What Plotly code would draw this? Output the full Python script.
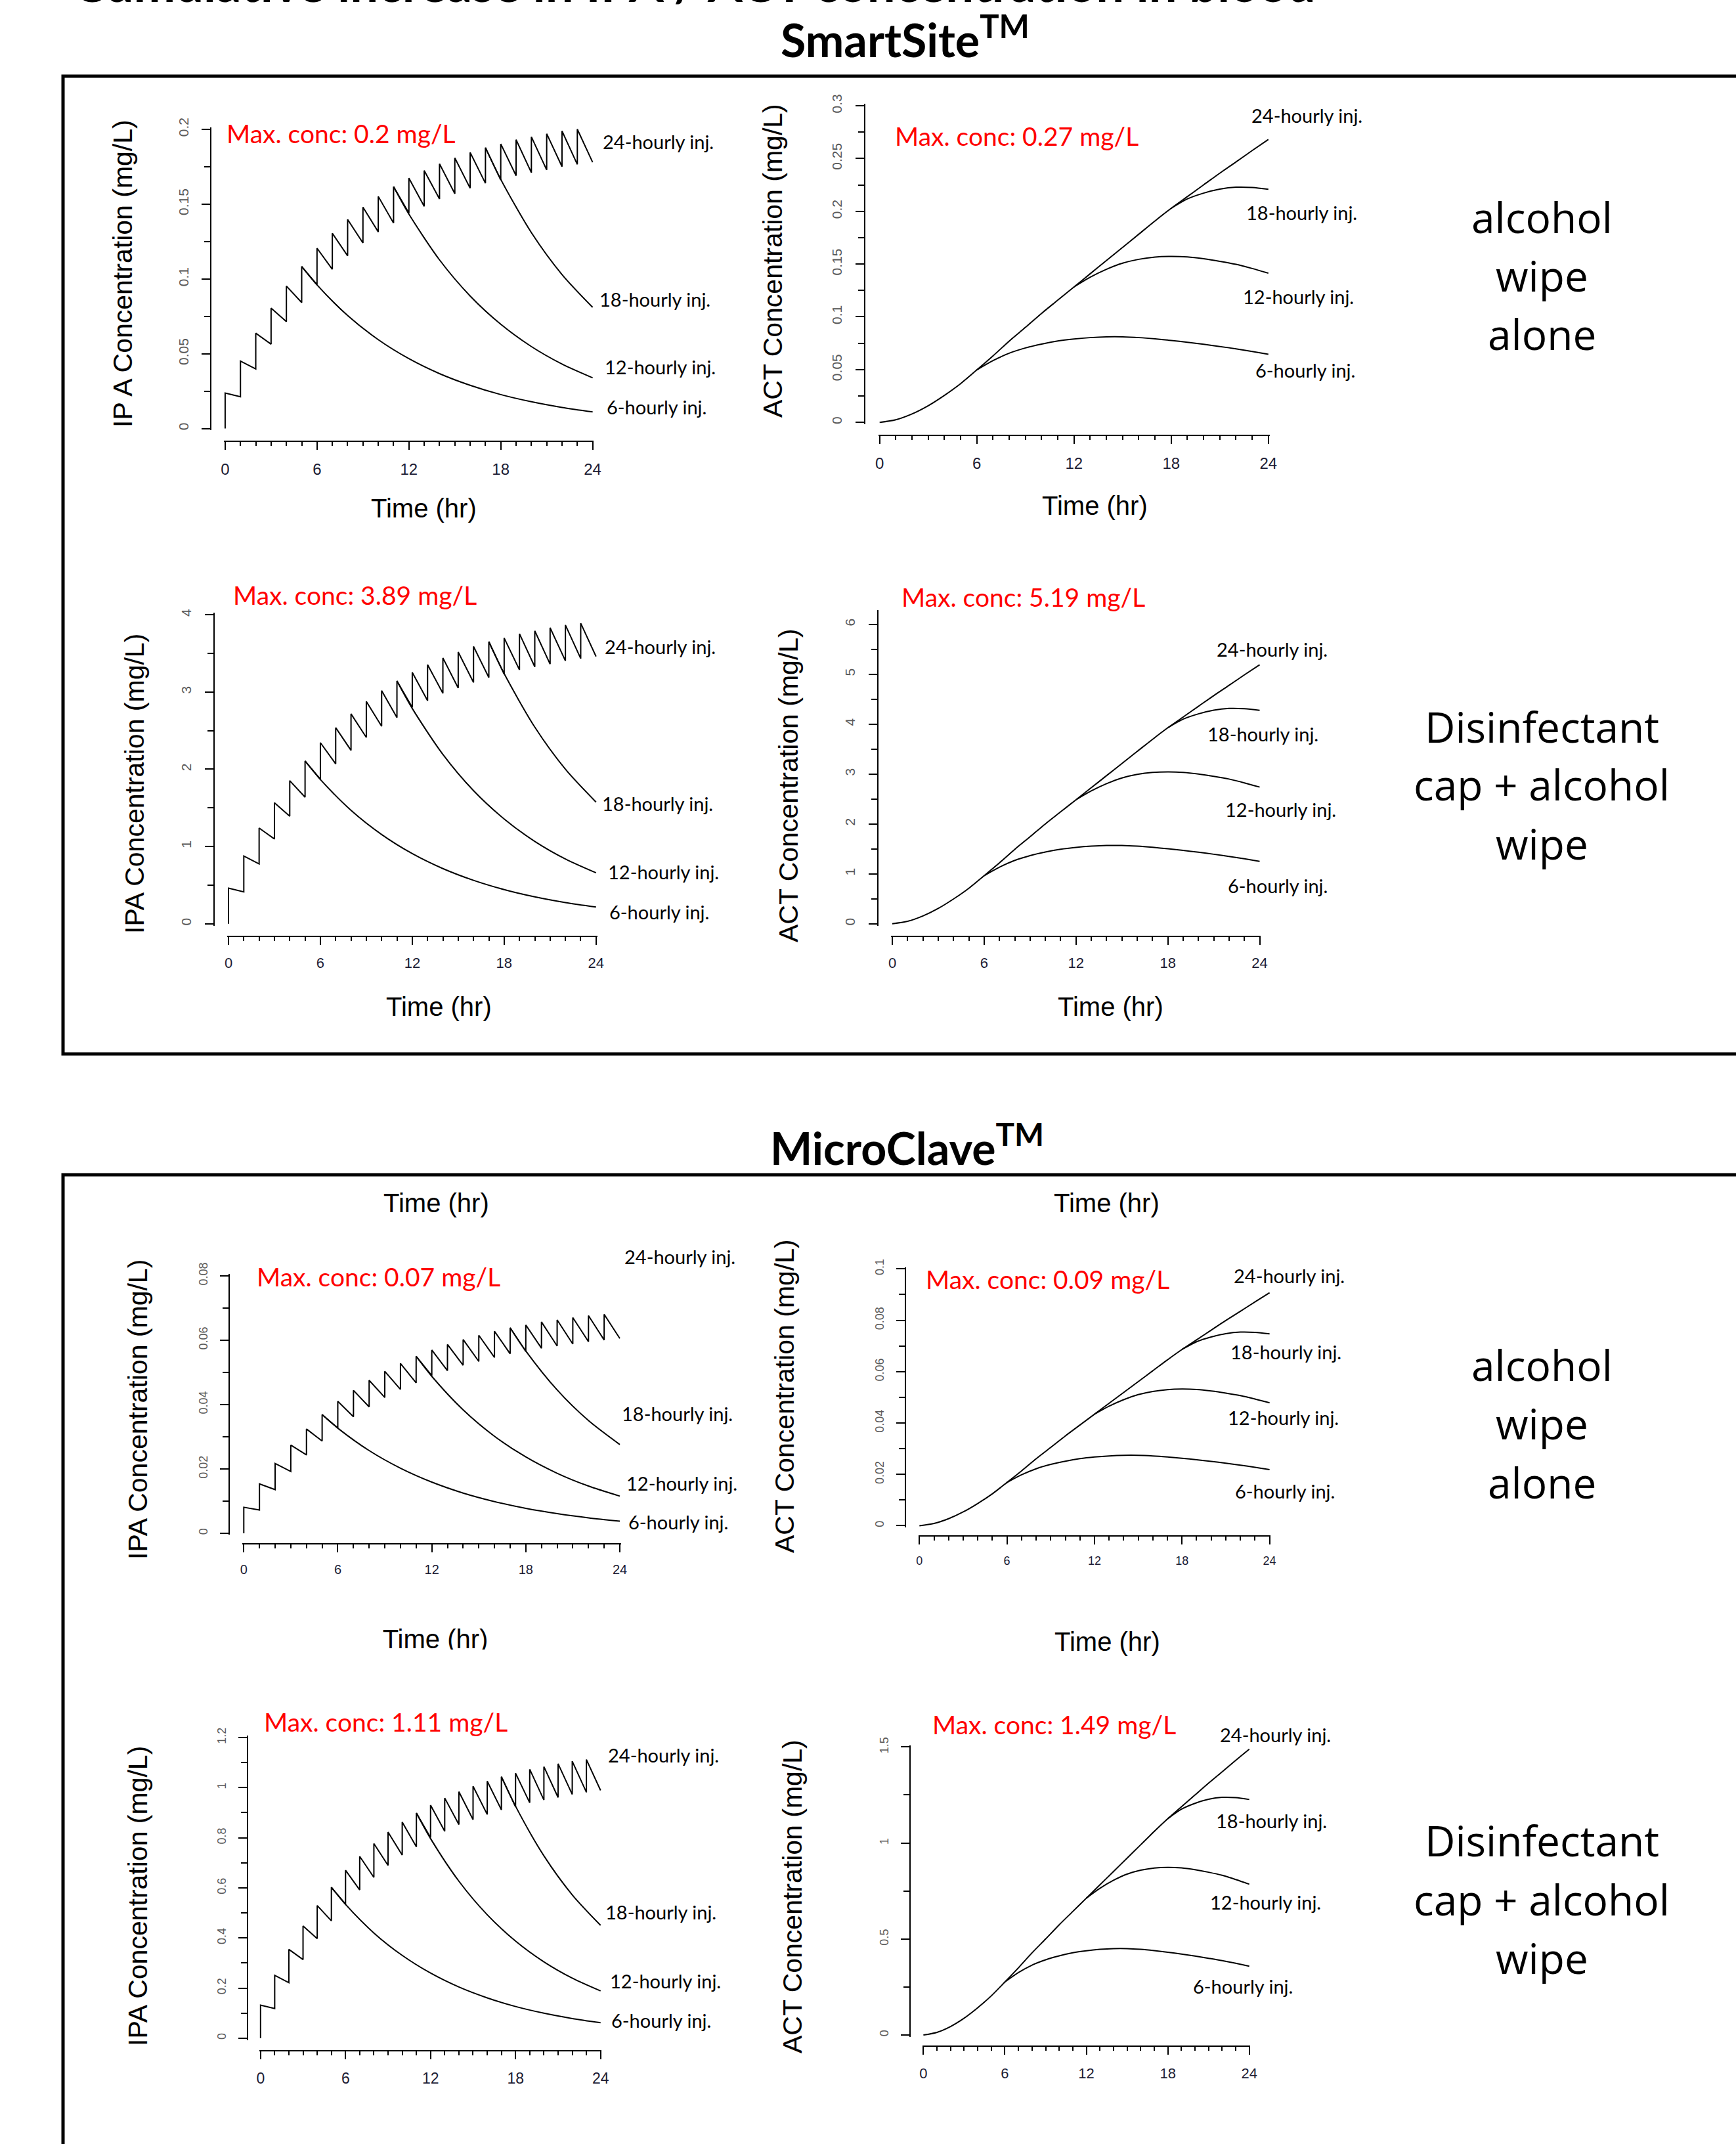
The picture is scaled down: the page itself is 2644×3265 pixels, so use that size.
import plotly.graph_objects as go

W, H = 2644, 3265

# ---------------- data ----------------
INJ_T = [0, 1, 2, 3, 4, 5, 6, 7, 8, 9, 10, 11, 12, 13, 14, 15, 16, 17, 18, 19, 20, 21, 22, 23]
PRE_T = [1, 2, 3, 4, 5, 6, 7, 8, 9, 10, 11, 12, 13, 14, 15, 16, 17, 18, 19, 20, 21, 22, 23, 24]
TAIL6_T = [5, 6, 8, 10, 12, 14, 16, 18, 20, 22, 24]
TAIL12_T = [11, 12, 14, 16, 18, 20, 22, 24]
TAIL18_T = [17, 18, 20, 22, 24]
ACT24_T = [0, 1, 2, 3, 4, 5, 6, 7, 8, 9, 10, 11, 12, 13, 14, 15, 16, 17, 18, 19, 20, 21, 22, 23, 24]
ACT6_T = [6, 7, 8, 9, 10, 11, 12, 13, 14, 15, 16, 17, 18, 19, 20, 21, 22, 23, 24]
ACT12_T = [12, 13, 14, 15, 16, 17, 18, 19, 20, 21, 22, 23, 24]
ACT18_T = [18, 19, 20, 21, 22, 23, 24]
X_TICKS = [0, 6, 12, 18, 24]

# SmartSite - alcohol wipe alone - IPA
SS_AW_IPA_PEAK = [0.0237, 0.0451, 0.0637, 0.0805, 0.0952, 0.1083, 0.1205, 0.1305, 0.1397, 0.1479, 0.1551, 0.1616,
                  0.1673, 0.1724, 0.1769, 0.1808, 0.1845, 0.1877, 0.1902, 0.1930, 0.1949, 0.1970, 0.1988, 0.2000]
SS_AW_IPA_TROUGH = [0.0212, 0.0398, 0.0564, 0.0715, 0.0842, 0.0962, 0.1064, 0.1154, 0.1240, 0.1314, 0.1373, 0.1440,
                    0.1485, 0.1534, 0.1569, 0.1606, 0.1639, 0.1661, 0.1690, 0.1710, 0.1728, 0.1750, 0.1765, 0.1779]
SS_AW_IPA_6H = [0.1083, 0.0960, 0.0755, 0.0594, 0.0467, 0.0367, 0.0289, 0.0227, 0.0179, 0.0141, 0.0111]
SS_AW_IPA_12H = [0.1616, 0.1433, 0.1127, 0.0886, 0.0697, 0.0548, 0.0431, 0.0339]
SS_AW_IPA_18H = [0.1877, 0.1665, 0.1309, 0.1029, 0.0810]

# SmartSite - alcohol wipe alone - ACT
SS_AW_ACT_24H = [0, 0.0025, 0.0080, 0.0158, 0.0256, 0.0367, 0.0497, 0.0630, 0.0770, 0.0900, 0.1033, 0.1158, 0.1283,
                 0.1408, 0.1533, 0.1658, 0.1783, 0.1908, 0.2028, 0.2139, 0.2250, 0.2361, 0.2467, 0.2575, 0.2680]
SS_AW_ACT_6H = [0.0497, 0.0585, 0.0655, 0.0705, 0.0742, 0.0771, 0.0790, 0.0803, 0.0810, 0.0810, 0.0803, 0.0791,
                0.0776, 0.0759, 0.0740, 0.0719, 0.0697, 0.0672, 0.0645]
SS_AW_ACT_12H = [0.1283, 0.1375, 0.1450, 0.1508, 0.1545, 0.1566, 0.1572, 0.1567, 0.1550, 0.1526, 0.1497, 0.1458, 0.1414]
SS_AW_ACT_18H = [0.2028, 0.2117, 0.2172, 0.2210, 0.2228, 0.2225, 0.2208]

# SmartSite - disinfectant cap + alcohol wipe - IPA
SS_DC_IPA_PEAK = [0.461, 0.877, 1.239, 1.566, 1.852, 2.106, 2.344, 2.538, 2.717, 2.877, 3.017, 3.143,
                  3.254, 3.353, 3.441, 3.517, 3.589, 3.651, 3.699, 3.754, 3.791, 3.832, 3.867, 3.890]
SS_DC_IPA_TROUGH = [0.412, 0.774, 1.097, 1.391, 1.638, 1.871, 2.069, 2.245, 2.412, 2.556, 2.670, 2.801,
                    2.888, 2.984, 3.052, 3.124, 3.188, 3.231, 3.287, 3.326, 3.361, 3.404, 3.433, 3.460]
SS_DC_IPA_6H = [2.106, 1.867, 1.468, 1.155, 0.908, 0.714, 0.562, 0.442, 0.348, 0.274, 0.216]
SS_DC_IPA_12H = [3.143, 2.787, 2.192, 1.723, 1.356, 1.066, 0.838, 0.659]
SS_DC_IPA_18H = [3.651, 3.238, 2.546, 2.001, 1.575]

# SmartSite - disinfectant cap + alcohol wipe - ACT
SS_DC_ACT_24H = [0, 0.048, 0.155, 0.306, 0.496, 0.711, 0.963, 1.220, 1.491, 1.743, 2.001, 2.243, 2.485,
                 2.727, 2.969, 3.212, 3.454, 3.696, 3.928, 4.143, 4.358, 4.573, 4.779, 4.988, 5.191]
SS_DC_ACT_6H = [0.963, 1.133, 1.269, 1.366, 1.437, 1.493, 1.530, 1.555, 1.569, 1.569, 1.555, 1.532,
                1.503, 1.470, 1.433, 1.393, 1.350, 1.302, 1.249]
SS_DC_ACT_12H = [2.485, 2.663, 2.809, 2.921, 2.993, 3.033, 3.045, 3.035, 3.002, 2.956, 2.900, 2.824, 2.739]
SS_DC_ACT_18H = [3.928, 4.101, 4.207, 4.281, 4.316, 4.310, 4.277]

# MicroClave - alcohol wipe alone - IPA
MC_AW_IPA_PEAK = [0.00806, 0.01533, 0.02166, 0.02737, 0.03237, 0.03682, 0.04097, 0.04437, 0.04750, 0.05029, 0.05273,
                  0.05494, 0.05688, 0.05862, 0.06015, 0.06147, 0.06273, 0.06382, 0.06467, 0.06562, 0.06627, 0.06698,
                  0.06759, 0.06800]
MC_AW_IPA_TROUGH = [0.00721, 0.01353, 0.01918, 0.02431, 0.02863, 0.03271, 0.03618, 0.03924, 0.04216, 0.04468, 0.04668,
                    0.04896, 0.05049, 0.05216, 0.05335, 0.05460, 0.05573, 0.05647, 0.05746, 0.05814, 0.05875, 0.05950,
                    0.06001, 0.06049]
MC_AW_IPA_6H = [0.03682, 0.03264, 0.02567, 0.02020, 0.01588, 0.01248, 0.00983, 0.00772, 0.00609, 0.00479, 0.00377]
MC_AW_IPA_12H = [0.05494, 0.04872, 0.03832, 0.03012, 0.02370, 0.01863, 0.01465, 0.01153]
MC_AW_IPA_18H = [0.06382, 0.05661, 0.04451, 0.03499, 0.02754]

# MicroClave - alcohol wipe alone - ACT
MC_AW_ACT_24H = [0, 0.00085, 0.00271, 0.00535, 0.00866, 0.01242, 0.01682, 0.02132, 0.02606, 0.03046, 0.03496, 0.03919,
                 0.04342, 0.04765, 0.05188, 0.05611, 0.06034, 0.06457, 0.06863, 0.07238, 0.07614, 0.07990, 0.08348,
                 0.08714, 0.09069]
MC_AW_ACT_6H = [0.01682, 0.01980, 0.02217, 0.02386, 0.02511, 0.02609, 0.02673, 0.02717, 0.02741, 0.02741, 0.02717,
                0.02677, 0.02626, 0.02568, 0.02504, 0.02433, 0.02359, 0.02274, 0.02183]
MC_AW_ACT_12H = [0.04342, 0.04653, 0.04907, 0.05103, 0.05228, 0.05299, 0.05320, 0.05303, 0.05245, 0.05164, 0.05066,
                 0.04934, 0.04785]
MC_AW_ACT_18H = [0.06863, 0.07164, 0.07350, 0.07479, 0.07540, 0.07529, 0.07472]

# MicroClave - disinfectant cap + alcohol wipe - IPA
MC_DC_IPA_PEAK = [0.1318, 0.2508, 0.3542, 0.4476, 0.5293, 0.6021, 0.6700, 0.7256, 0.7767, 0.8223, 0.8624, 0.8985,
                  0.9302, 0.9585, 0.9836, 1.0052, 1.0258, 1.0436, 1.0575, 1.0731, 1.0836, 1.0953, 1.1053, 1.1120]
MC_DC_IPA_TROUGH = [0.1179, 0.2213, 0.3136, 0.3975, 0.4682, 0.5349, 0.5916, 0.6416, 0.6894, 0.7306, 0.7634, 0.8006,
                    0.8257, 0.8529, 0.8724, 0.8929, 0.9113, 0.9235, 0.9396, 0.9508, 0.9608, 0.9730, 0.9813, 0.9891]
MC_DC_IPA_6H = [0.6021, 0.5338, 0.4198, 0.3303, 0.2597, 0.2041, 0.1607, 0.1262, 0.0995, 0.0784, 0.0617]
MC_DC_IPA_12H = [0.8985, 0.7967, 0.6266, 0.4926, 0.3875, 0.3047, 0.2396, 0.1885]
MC_DC_IPA_18H = [1.0436, 0.9257, 0.7278, 0.5721, 0.4504]

# MicroClave - disinfectant cap + alcohol wipe - ACT
MC_DC_ACT_24H = [0, 0.0139, 0.0444, 0.0878, 0.1422, 0.2039, 0.2761, 0.3500, 0.4277, 0.5000, 0.5738, 0.6433, 0.7127,
                 0.7821, 0.8516, 0.9210, 0.9905, 1.0599, 1.1266, 1.1882, 1.2499, 1.3115, 1.3704, 1.4304, 1.4887]
MC_DC_ACT_6H = [0.2761, 0.3250, 0.3639, 0.3916, 0.4122, 0.4283, 0.4388, 0.4461, 0.4500, 0.4500, 0.4461, 0.4394,
                0.4311, 0.4216, 0.4111, 0.3994, 0.3872, 0.3733, 0.3583]
MC_DC_ACT_12H = [0.7127, 0.7638, 0.8055, 0.8377, 0.8582, 0.8699, 0.8732, 0.8705, 0.8610, 0.8477, 0.8316, 0.8099, 0.7855]
MC_DC_ACT_18H = [1.1266, 1.1760, 1.2065, 1.2277, 1.2377, 1.2360, 1.2265]

SERIES_LABELS = ["24-hourly inj.", "18-hourly inj.", "12-hourly inj.", "6-hourly inj."]
MAX_TEXT = ["Max. conc: 0.2 mg/L", "Max. conc: 0.27 mg/L", "Max. conc: 3.89 mg/L", "Max. conc: 5.19 mg/L",
            "Max. conc: 0.07 mg/L", "Max. conc: 0.09 mg/L", "Max. conc: 1.11 mg/L", "Max. conc: 1.49 mg/L"]
Y_TITLES = ["IP A Concentration (mg/L)", "ACT Concentration (mg/L)", "IPA Concentration (mg/L)",
            "ACT Concentration (mg/L)", "IPA Concentration (mg/L)", "ACT Concentration (mg/L)",
            "IPA Concentration (mg/L)", "ACT Concentration (mg/L)"]

# ---------------- layout geometry (pixels) ----------------
def fx(px):
    return px / W


def fy(py):
    return 1 - py / H


PANELS = [
    dict(kind="ipa", data=(SS_AW_IPA_PEAK, SS_AW_IPA_TROUGH, SS_AW_IPA_6H, SS_AW_IPA_12H, SS_AW_IPA_18H),
         x0=342.9, x24=902.6, y0=652.6, ytop=196.8, yhi=0.2, dt=0.05, mdt=0.025, yax=321, xax=672.2,
         ytf=21, xtf=24, ylab=(187, 417), maxp=(343, 203), time=(645, 774),
         labs=[(916, 215), (911, 455), (919, 559), (922, 619)]),
    dict(kind="act", data=(SS_AW_ACT_24H, SS_AW_ACT_6H, SS_AW_ACT_12H, SS_AW_ACT_18H),
         x0=1339.7, x24=1931.8, y0=643.2, ytop=161, yhi=0.3, dt=0.05, mdt=0.025, yax=1316.7, xax=663.3,
         ytf=21, xtf=24, ylab=(1177, 397), maxp=(1361, 207), time=(1668, 770),
         labs=[(1904, 175), (1896, 323), (1891, 451), (1910, 563)]),
    dict(kind="ipa", data=(SS_DC_IPA_PEAK, SS_DC_IPA_TROUGH, SS_DC_IPA_6H, SS_DC_IPA_12H, SS_DC_IPA_18H),
         x0=348, x24=907.8, y0=1406.7, ytop=936.2, yhi=4, dt=1, mdt=0.5, yax=325.7, xax=1425.9,
         ytf=21, xtf=22, ylab=(205, 1193), maxp=(353, 906), time=(669, 1533),
         labs=[(919, 984), (915, 1224), (924, 1327), (926, 1388)]),
    dict(kind="act", data=(SS_DC_ACT_24H, SS_DC_ACT_6H, SS_DC_ACT_12H, SS_DC_ACT_18H),
         x0=1359, x24=1918.5, y0=1406.7, ytop=931.9, yhi=6.25, dt=1, mdt=0.5, yax=1336.7, xax=1425.9,
         ytf=21, xtf=22, ylab=(1201, 1196), maxp=(1371, 909), time=(1691, 1533),
         labs=[(1851, 989), (1837, 1117), (1864, 1233), (1868, 1348)]),
    dict(kind="ipa", data=(MC_AW_IPA_PEAK, MC_AW_IPA_TROUGH, MC_AW_IPA_6H, MC_AW_IPA_12H, MC_AW_IPA_18H),
         x0=371.3, x24=944, y0=2334.9, ytop=1942.6, yhi=0.08, dt=0.02, mdt=0.01, yax=349, xax=2350.6,
         ytf=18, xtf=20, ylab=(210, 2147), maxp=(389, 1944), time=(664, 1832),
         labs=[(949, 1913), (945, 2152), (952, 2258), (955, 2317)]),
    dict(kind="act", data=(MC_AW_ACT_24H, MC_AW_ACT_6H, MC_AW_ACT_12H, MC_AW_ACT_18H),
         x0=1400.3, x24=1933.6, y0=2323.4, ytop=1932.3, yhi=0.1, dt=0.02, mdt=0.01, yax=1379, xax=2339,
         ytf=18, xtf=18, ylab=(1195, 2126), maxp=(1408, 1948), time=(1685, 1832),
         labs=[(1877, 1942), (1872, 2058), (1868, 2158), (1879, 2270)]),
    dict(kind="ipa", data=(MC_DC_IPA_PEAK, MC_DC_IPA_TROUGH, MC_DC_IPA_6H, MC_DC_IPA_12H, MC_DC_IPA_18H),
         x0=396.8, x24=914.7, y0=3103.8, ytop=2646, yhi=1.2, dt=0.2, mdt=0.1, yax=377, xax=3123.4,
         ytf=18, xtf=23, ylab=(210, 2888), maxp=(400, 2622), time=None,
         labs=[(924, 2672), (920, 2911), (927, 3016), (929, 3076)]),
    dict(kind="act", data=(MC_DC_ACT_24H, MC_DC_ACT_6H, MC_DC_ACT_12H, MC_DC_ACT_18H),
         x0=1406.4, x24=1902.7, y0=3099, ytop=2660.4, yhi=1.5, dt=0.5, mdt=0.25, yax=1386.4, xax=3116.2,
         ytf=18, xtf=22, ylab=(1207, 2888), maxp=(1418, 2626), time=(1686, 2500),
         labs=[(1856, 2641), (1850, 2772), (1841, 2896), (1815, 3024)]),
]

SIDE_TEXT = [
    ("alcohol", 331), ("wipe", 420), ("alone", 508),
    ("Disinfectant", 1106), ("cap + alcohol", 1195), ("wipe", 1284),
    ("alcohol", 2078), ("wipe", 2167), ("alone", 2257),
    ("Disinfectant", 2802), ("cap + alcohol", 2892), ("wipe", 2981),
]

ARIAL = "Liberation Sans, Arial, sans-serif"
CALIBRI = "Lato, Carlito, Calibri, sans-serif"
LINE = dict(color="black", width=2)

fig = go.Figure()
layout = dict(width=W, height=H, margin=dict(l=0, r=0, t=0, b=0, pad=0, autoexpand=False),
              paper_bgcolor="white", plot_bgcolor="white", showlegend=False)
annotations = []

for i, p in enumerate(PANELS):
    n = i + 1
    xs_name = "x" if n == 1 else f"x{n}"
    ys_name = "y" if n == 1 else f"y{n}"
    xkey = "xaxis" if n == 1 else f"xaxis{n}"
    ykey = "yaxis" if n == 1 else f"yaxis{n}"

    if p["kind"] == "ipa":
        peaks, troughs, t6, t12, t18 = p["data"]
        sx, sy = [0], [0]
        for t, pk, t2, tr in zip(INJ_T, peaks, PRE_T, troughs):
            sx += [t, t2]
            sy += [pk, tr]
        fig.add_trace(go.Scatter(x=sx, y=sy, mode="lines", line=LINE, xaxis=xs_name, yaxis=ys_name))
        for tt, vv in ((TAIL6_T, t6), (TAIL12_T, t12), (TAIL18_T, t18)):
            fig.add_trace(go.Scatter(x=tt, y=vv, mode="lines", line=dict(LINE, shape="spline", smoothing=0.8),
                                     xaxis=xs_name, yaxis=ys_name))
    else:
        a24, a6, a12, a18 = p["data"]
        for tt, vv in ((ACT24_T, a24), (ACT6_T, a6), (ACT12_T, a12), (ACT18_T, a18)):
            fig.add_trace(go.Scatter(x=tt, y=vv, mode="lines", line=dict(LINE, shape="spline", smoothing=0.8),
                                     xaxis=xs_name, yaxis=ys_name))

    ppt = (p["x24"] - p["x0"]) / 24.0
    padt = 0.08
    ppu = (p["y0"] - p["ytop"]) / p["yhi"]
    padv = p["yhi"] * 0.006
    layout[xkey] = dict(
        domain=[fx(p["x0"] - padt * ppt), fx(p["x24"] + padt * ppt)], range=[-padt, 24 + padt],
        anchor="free", position=fy(p["xax"]), showline=True, linecolor="black", linewidth=2,
        showgrid=False, zeroline=False, ticks="outside", tickmode="array", tickvals=X_TICKS,
        ticklen=12, tickwidth=2, tickcolor="black", automargin=False,
        minor=dict(ticks="outside", dtick=1, tick0=0, ticklen=6, tickwidth=2, tickcolor="black"),
        tickfont=dict(family=ARIAL, size=p["xtf"], color="#1c1c34"), ticklabelstandoff=9,
    )
    layout[ykey] = dict(
        domain=[fy(p["y0"] + padv * ppu), fy(p["ytop"] - padv * ppu)], range=[-padv, p["yhi"] + padv],
        anchor="free", position=fx(p["yax"]), showline=True, linecolor="black", linewidth=2,
        showgrid=False, zeroline=False, ticks="outside", tick0=0, dtick=p["dt"], automargin=False,
        ticklen=13, tickwidth=2, tickcolor="black", tickangle=-90,
        minor=dict(ticks="outside", dtick=p["mdt"], tick0=0, ticklen=9, tickwidth=2, tickcolor="black"),
        tickfont=dict(family=ARIAL, size=p["ytf"], color="#5a5a5a"), ticklabelstandoff=12,
    )

    annotations.append(dict(text=Y_TITLES[i], x=fx(p["ylab"][0]), y=fy(p["ylab"][1]), xref="paper", yref="paper",
                            textangle=-90, showarrow=False, xanchor="center", yanchor="middle",
                            font=dict(family=ARIAL, size=41, color="black")))
    annotations.append(dict(text=MAX_TEXT[i], x=fx(p["maxp"][0]), y=fy(p["maxp"][1]), xref="paper", yref="paper",
                            showarrow=False, xanchor="left", yanchor="middle",
                            font=dict(family=CALIBRI, size=39, color="#ff0000")))
    if p["time"] is not None:
        annotations.append(dict(text="Time (hr)", x=fx(p["time"][0]), y=fy(p["time"][1]), xref="paper",
                                yref="paper", showarrow=False, xanchor="center", yanchor="middle",
                                font=dict(family=ARIAL, size=40, color="black")))
    for lab, (lx, ly) in zip(SERIES_LABELS, p["labs"]):
        annotations.append(dict(text=lab, x=fx(lx), y=fy(ly), xref="paper", yref="paper", showarrow=False,
                                xanchor="left", yanchor="middle", font=dict(family=CALIBRI, size=29, color="black")))

# partially hidden "Time (hr)" (clipped by the panel below it in the original)
layout["xaxis9"] = dict(domain=[fx(540), fx(790)], range=[0, 1], visible=False, anchor="y9")
layout["yaxis9"] = dict(domain=[fy(2512), fy(2466)], range=[0, 1], visible=False, anchor="x9")
fig.add_trace(go.Scatter(x=[(663 - 540) / 250], y=[(2512 - 2500) / 46], mode="text", text=["Time (hr)"],
                         textposition="middle center", cliponaxis=True,
                         textfont=dict(family=ARIAL, size=40, color="black"), xaxis="x9", yaxis="y9",
                         hoverinfo="skip"))

# section titles
annotations.append(dict(text="<b>Cumulative increase in IPA / ACT concentration in blood</b>", x=fx(1057),
                        y=fy(-27), xref="paper", yref="paper", showarrow=False, xanchor="center",
                        yanchor="middle", font=dict(family=CALIBRI, size=76, color="black")))
annotations.append(dict(text="<b>SmartSite<sup>TM</sup></b>", x=fx(1378), y=fy(56), xref="paper", yref="paper",
                        showarrow=False, xanchor="center", yanchor="middle",
                        font=dict(family=CALIBRI, size=70, color="black")))
annotations.append(dict(text="<b>MicroClave<sup>TM</sup></b>", x=fx(1381), y=fy(1743), xref="paper", yref="paper",
                        showarrow=False, xanchor="center", yanchor="middle",
                        font=dict(family=CALIBRI, size=68, color="black")))
for txt, yy in SIDE_TEXT:
    annotations.append(dict(text=txt, x=fx(2348), y=fy(yy), xref="paper", yref="paper", showarrow=False,
                            xanchor="center", yanchor="middle", font=dict(family="Open Sans", size=64,
                                                                            color="black")))

layout["annotations"] = annotations
layout["shapes"] = [
    dict(type="rect", xref="paper", yref="paper", x0=fx(96), x1=fx(2700), y0=fy(1605), y1=fy(116),
         line=dict(color="black", width=5), fillcolor="rgba(0,0,0,0)", layer="below"),
    dict(type="rect", xref="paper", yref="paper", x0=fx(96), x1=fx(2700), y0=fy(3320), y1=fy(1789),
         line=dict(color="black", width=5), fillcolor="rgba(0,0,0,0)", layer="below"),
]
fig.update_layout(**layout)

fig.write_html("out.html", config={"displayModeBar": False},
               post_script="document.body.style.margin='0';document.body.style.overflow='hidden';")
